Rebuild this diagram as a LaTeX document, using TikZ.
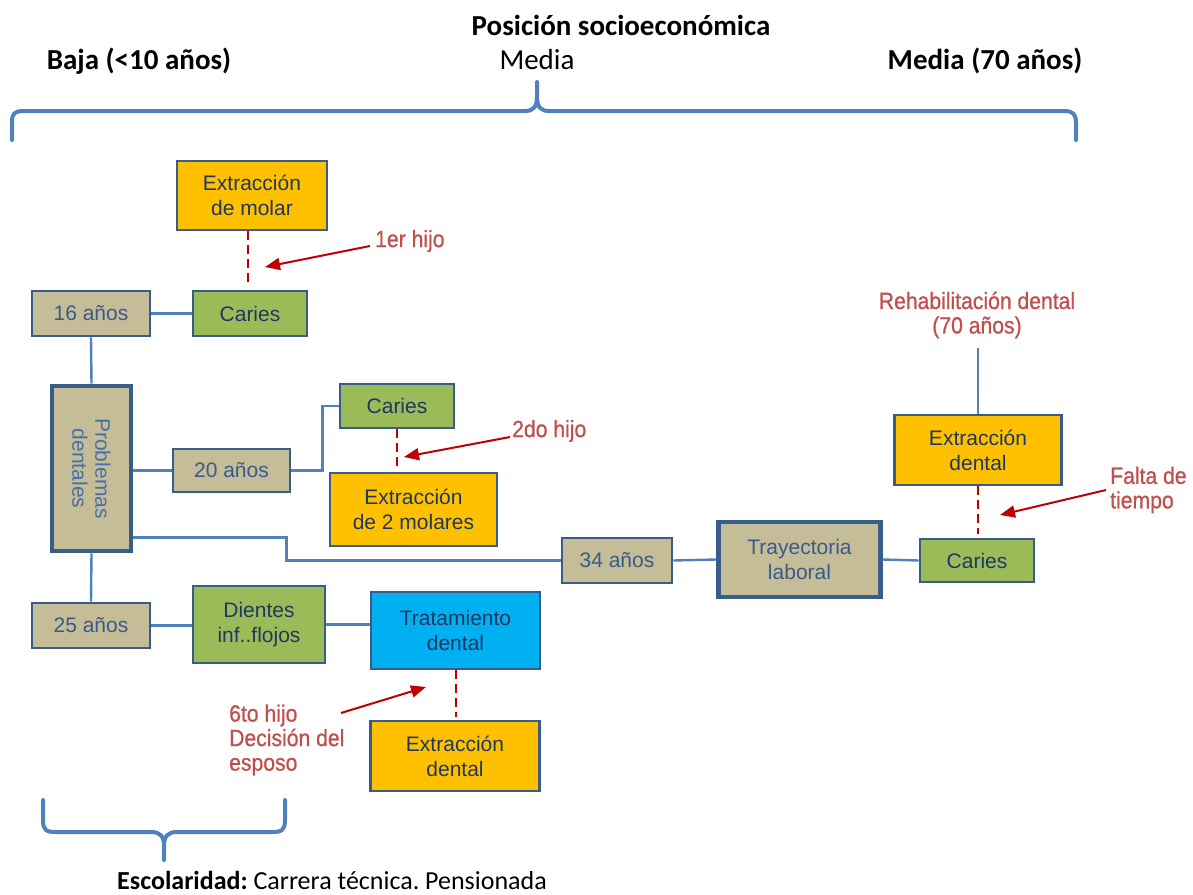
\documentclass[tikz,border=0pt]{standalone}
\usepackage{fontspec}
\setmainfont{Liberation Sans}
\newfontfamily\carlito{Carlito}
\newfontfamily\notefont{Liberation Sans}[FakeStretch=0.9, FakeBold=0.8]
\usetikzlibrary{arrows.meta,calc}
\frenchspacing

\definecolor{boxorange}{HTML}{FFC000}
\definecolor{boxgreen}{HTML}{9BBB59}
\definecolor{boxtan}{HTML}{C4BD97}
\definecolor{boxcyan}{HTML}{00B0F0}
\definecolor{boxline}{HTML}{385D8A}
\definecolor{linkblue}{HTML}{4F81BD}
\definecolor{navytext}{HTML}{1F3763}
\definecolor{slatetext}{HTML}{3A5A8C}
\definecolor{softblue}{HTML}{4670A8}
\definecolor{notered}{HTML}{C0504D}
\definecolor{darkred}{HTML}{C00000}

\tikzset{
  box/.style={draw=boxline, line width=2.6pt, align=center, inner sep=0pt,
    font=\fontsize{21}{25}\selectfont, text=navytext},
  agebox/.style={box, fill=boxtan, text=slatetext},
  heavy/.style={line width=4.8pt},
  link/.style={draw=linkblue, line width=2.4pt},
  rdash/.style={draw=darkred, line width=2pt, dash pattern=on 9pt off 5pt},
  rarrow/.style={draw=darkred, line width=2pt, -{Triangle[length=15pt,width=12pt]}},
  note/.style={text=notered, font=\notefont\fontsize{23.5}{24.5}\selectfont, inner sep=0pt, align=left},
  brace/.style={draw=linkblue, line width=4pt, line cap=round, line join=round},
  title/.style={font=\carlito\fontsize{29}{33}\selectfont, inner sep=0pt},
}

\begin{document}
\begin{tikzpicture}[x=1pt,y=1pt]
\useasboundingbox (0,0) rectangle (1193,-894);

% headings
\node[title] (pos) at (621,-25) {\bfseries Posición socioeconómica};
\node[title] (baja) at (139,-61) {\bfseries Baja (<10 años)};
\node[title] (media) at (537,-60) {Media};
\node[title] (media70) at (985,-61) {\bfseries Media (70 años)};

% top brace
\draw[brace] (12,-140) -- (12,-122) .. controls (12,-113) and (15,-111) .. (24,-111)
  -- (525,-111) .. controls (533,-111) and (537,-107) .. (537,-97) -- (537,-82);
\draw[brace] (537,-97) .. controls (537,-107) and (541,-111) .. (549,-111)
  -- (1064,-111) .. controls (1073,-111) and (1076,-114) .. (1076,-123) -- (1076,-140);

% boxes
\node[box, fill=boxorange, minimum width=150, minimum height=69] (exm) at (252,-195.5) {Extracción\\de molar};
\node[box, fill=boxgreen, minimum width=114, minimum height=45] (car1) at (250,-313.5) {Caries};
\node[agebox, minimum width=118, minimum height=45] (a16) at (91,-313.5) {16 años};
\node[agebox, heavy, minimum width=79, minimum height=165] (prob) at (91.5,-468.5) {};
\node[rotate=-90, align=center, inner sep=0pt, font=\fontsize{21}{23}\selectfont, text=softblue] (probtxt) at (prob.center) {Problemas\\dentales};
\node[agebox, minimum width=117, minimum height=43] (a20) at (231.5,-470.5) {20 años};
\node[box, fill=boxgreen, minimum width=114, minimum height=44] (car2) at (397,-406) {Caries};
\node[box, fill=boxorange, minimum width=167, minimum height=73] (ex2) at (413.5,-509.5) {Extracción\\de 2 molares};
\node[agebox, minimum width=110, minimum height=45] (a34) at (617,-560.5) {34 años};
\node[agebox, heavy, minimum width=162, minimum height=75] (tray) at (799.5,-559.5) {Trayectoria\\laboral};
\node[box, fill=boxgreen, minimum width=114, minimum height=43] (car3) at (977,-560.5) {Caries};
\node[box, fill=boxorange, minimum width=167, minimum height=70] (exd1) at (978,-450) {Extracción\\dental};
\node[agebox, minimum width=118, minimum height=45] (a25) at (91,-625.5) {25 años};
\node[box, fill=boxgreen, minimum width=132, minimum height=77] (dient) at (259,-624.5) {Dientes\\inf..flojos};
\node[box, fill=boxcyan, minimum width=169, minimum height=77] (trat) at (455.5,-630.5) {Tratamiento\\dental};
\node[box, fill=boxorange, minimum width=169, minimum height=70] (exd2) at (455,-756) {Extracción\\dental};

% red notes
\node[note, anchor=west] (h1) at (375,-241) {1er hijo};
\node[note, anchor=west] (h2) at (512,-431) {2do hijo};
\node[note, anchor=west] (h6) at (229,-740) {6to hijo\\Decisión del\\esposo};
\node[note, anchor=west] (falta) at (1110,-490) {Falta de\\tiempo};
\node[note, align=center] (rehab) at (977,-315) {Rehabilitación dental\\(70 años)};

% solid connectors
\draw[link] (a16.east) -- (car1.west);
\draw[link] (a16.south) -- (prob.north);
\draw[link] (prob.east |- a20.west) -- (a20.west);
\draw[link] (a20.east) -- ++(31,0) |- (car2.west);
\draw[link] ($(prob.south east)+(0,16)$) -- ++(153,0) |- (a34.west);
\draw[link] (a34.east) -- (tray.west);
\draw[link] (tray.east) -- (car3.west);
\draw[link] (prob.south) -- (a25.north);
\draw[link] (a25.east) -- (a25.east -| dient.west);
\draw[link] (dient.east) -- (dient.east -| trat.west);
\coordinate (rtop) at (978,-348);
\draw[link] (rtop) -- (exd1.north);

% dashed links
\draw[rdash, shorten >=8pt] ([xshift=-4pt]exm.south) -- ([xshift=-4pt]exm.south |- car1.north);
\draw[rdash, shorten >=2pt] (car2.south) -- (car2.south |- ex2.north);
\draw[rdash, shorten >=4pt] (exd1.south) -- (exd1.south |- car3.north);
\draw[rdash, shorten >=3pt] (trat.south) -- (trat.south |- exd2.north);

% annotation arrows
\coordinate (tip1) at (265,-267);
\draw[rarrow] ([xshift=-5pt,yshift=-5pt]h1.west) -- (tip1);
\coordinate (tip2) at (404,-457);
\draw[rarrow] ([xshift=-2pt,yshift=-6pt]h2.west) -- (tip2);
\coordinate (a6s) at (341,-713);
\coordinate (tip6) at (426,-687);
\draw[rarrow] (a6s) -- (tip6);
\coordinate (tipf) at (1000,-515);
\draw[rarrow] ([xshift=-4pt]falta.west) -- (tipf);

% bottom brace and schooling note
\draw[brace] (43,-800) -- (43,-820) .. controls (43,-830) and (46,-832) .. (56,-832)
  -- (151,-832) .. controls (160,-832) and (164,-836) .. (164,-846) -- (164,-860);
\draw[brace] (164,-846) .. controls (164,-836) and (168,-832) .. (177,-832)
  -- (272,-832) .. controls (282,-832) and (285,-830) .. (285,-820) -- (285,-800);
\node[font=\carlito\fontsize{26}{29}\selectfont, inner sep=0pt, anchor=west] (esc) at (117,-880)
  {\textbf{Escolaridad:} Carrera técnica. Pensionada};
\end{tikzpicture}
\end{document}
